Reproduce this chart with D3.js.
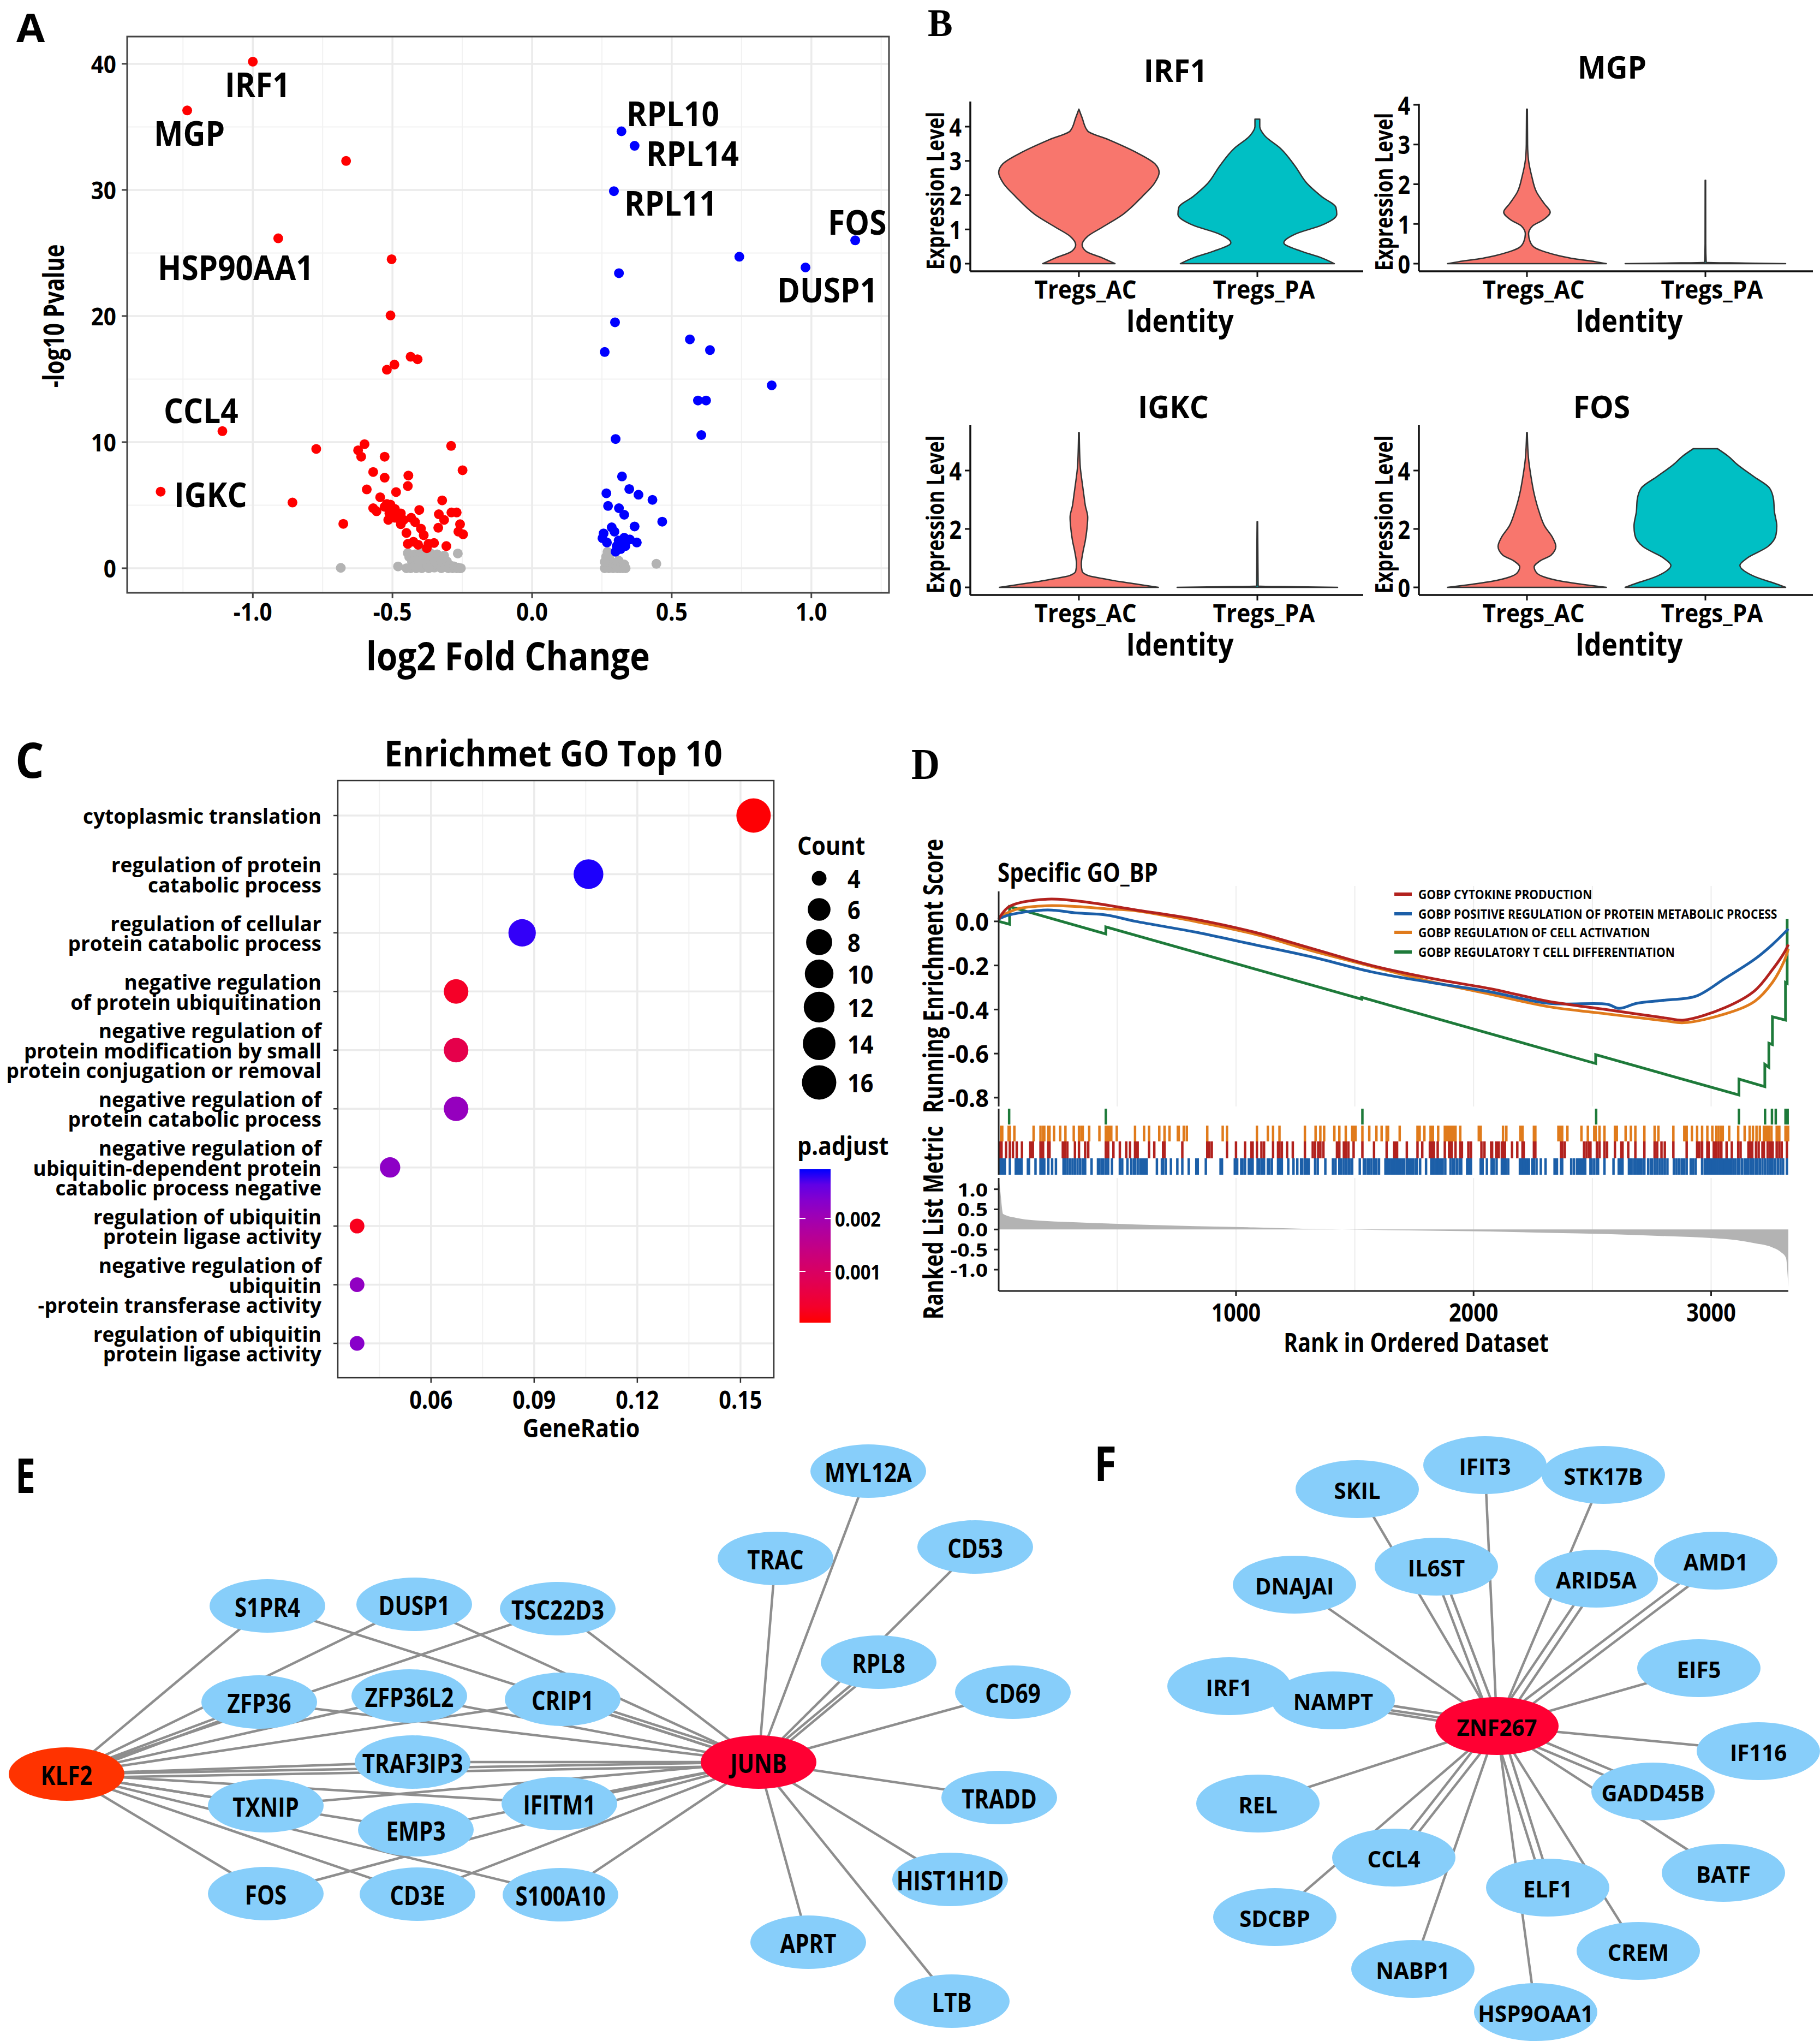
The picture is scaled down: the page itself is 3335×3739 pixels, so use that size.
<!DOCTYPE html>
<html><head><meta charset="utf-8">
<script src="https://cdn.jsdelivr.net/npm/d3@7"></script>
<style>body{margin:0;background:#fff}</style></head>
<body><svg id="c" width="3335" height="3739"></svg>
<script>
// ================= DATA =================
// Panel A volcano: [log2FC, -log10 p]
const downPts = [[-1.0,40.17],[-1.235,36.3],[-0.666,32.3],[-0.909,26.16],[-0.503,24.5],[-0.507,20.05],[-0.435,16.77],[-0.41,16.57],[-0.493,16.15],[-0.52,15.74],[-1.109,10.87],[-1.33,6.07],[-0.858,5.21],[-0.773,9.46],[-0.6,9.84],[-0.623,9.35],[-0.612,8.84],[-0.528,8.84],[-0.29,9.7],[-0.249,7.77],[-0.569,7.63],[-0.528,7.18],[-0.443,7.35],[-0.445,6.52],[-0.592,6.25],[-0.487,6.04],[-0.544,5.63],[-0.322,5.38],[-0.569,4.76],[-0.52,5.1],[-0.497,4.69],[-0.676,3.52],[-0.528,4.87],[-0.511,4.35],[-0.491,4.0],[-0.47,4.35],[-0.46,3.83],[-0.433,4.0],[-0.404,4.62],[-0.419,3.66],[-0.45,2.8],[-0.398,3.14],[-0.388,2.62],[-0.425,2.1],[-0.445,1.93],[-0.408,1.86],[-0.371,1.93],[-0.351,2.0],[-0.334,4.28],[-0.315,3.83],[-0.289,4.42],[-0.27,4.42],[-0.258,3.49],[-0.336,3.21],[-0.264,2.9],[-0.247,2.69],[-0.307,1.76],[-0.377,1.59],[-0.491,4.69],[-0.515,3.83],[-0.47,3.49],[-0.507,5.04],[-0.557,4.52]];
const upPts = [[0.32,34.65],[0.367,33.5],[0.293,29.9],[1.157,26.0],[0.742,24.7],[0.979,23.85],[0.311,23.4],[0.297,19.5],[0.565,18.15],[0.26,17.15],[0.637,17.3],[0.858,14.5],[0.594,13.3],[0.623,13.3],[0.606,10.56],[0.299,10.25],[0.322,7.28],[0.348,6.28],[0.266,5.94],[0.381,5.83],[0.431,5.42],[0.272,4.94],[0.311,4.76],[0.33,4.24],[0.466,3.69],[0.367,3.31],[0.285,3.24],[0.295,2.9],[0.256,2.76],[0.252,2.38],[0.268,2.04],[0.375,2.04],[0.33,2.42],[0.31,2.2],[0.35,2.28],[0.303,1.76],[0.317,1.52],[0.299,1.31],[0.334,1.76]];
const nsPts = [[-0.445,1.2],[-0.44,0.9],[-0.43,0.5],[-0.425,0.1],[-0.42,1.1],[-0.41,0.7],[-0.405,0.3],[-0.4,1.25],[-0.395,0.0],[-0.39,0.8],[-0.385,0.4],[-0.38,1.0],[-0.375,0.15],[-0.37,0.6],[-0.365,1.2],[-0.36,0.3],[-0.355,0.9],[-0.35,0.05],[-0.345,0.5],[-0.34,1.1],[-0.335,0.2],[-0.33,0.75],[-0.325,0.0],[-0.32,0.4],[-0.315,1.0],[-0.31,0.1],[-0.305,0.55],[-0.3,0.0],[-0.295,0.25],[-0.29,0.05],[-0.285,0.0],[-0.28,0.15],[-0.27,0.0],[-0.265,0.05],[-0.26,0.0],[-0.255,0.0],[-0.45,0.0],[-0.435,0.0],[-0.415,0.0],[-0.37,0.0],[-0.685,0.03],[-0.48,0.14],[-0.266,1.17],[0.445,0.35],[0.26,0.0],[0.265,0.9],[0.27,0.3],[0.275,0.0],[0.28,1.1],[0.285,0.5],[0.29,0.0],[0.3,0.2],[0.305,0.0],[0.31,0.6],[0.315,0.0],[0.32,0.15],[0.325,0.0],[0.33,0.3],[0.335,0.0],[0.27,1.3],[0.26,0.5]];
const volcanoLabels = ["IRF1","MGP","HSP90AA1","CCL4","IGKC","RPL10","RPL14","RPL11","FOS","DUSP1"];
const xTicksA = [-1.0,-0.5,0.0,0.5,1.0];
const yTicksA = [0,10,20,30,40];

// Panel B violins: [expression value, relative half width]
const vioGenes = ["IRF1","MGP","IGKC","FOS"];
const groups = ["Tregs_AC","Tregs_PA"];
const irf1AC = [[0,0.45],[0.17,0.29],[0.36,0.09],[0.55,0.04],[0.8,0.11],[1.06,0.29],[1.44,0.55],[1.96,0.79],[2.34,0.94],[2.66,1.0],[2.91,0.95],[3.23,0.73],[3.62,0.37],[3.87,0.11],[4.26,0.04],[4.51,0.0]];
const irf1PA = [[0,0.96],[0.17,0.8],[0.36,0.55],[0.61,0.33],[0.87,0.48],[1.12,0.8],[1.44,0.99],[1.64,0.98],[1.96,0.8],[2.34,0.62],[2.85,0.47],[3.36,0.29],[3.74,0.09],[4.0,0.03],[4.22,0.03]];
const mgpAC = [[0,0.99],[0.05,0.85],[0.12,0.6],[0.2,0.4],[0.3,0.22],[0.4,0.1],[0.55,0.04],[0.75,0.02],[0.95,0.07],[1.1,0.2],[1.3,0.29],[1.5,0.22],[1.8,0.12],[2.2,0.06],[2.6,0.02],[3.0,0.008],[3.89,0.005]];
const mgpPA = [[0,1.0],[0.015,0.5],[0.03,0.01],[0.5,0.004],[2.1,0.003]];
const igkcAC = [[0,0.99],[0.1,0.75],[0.2,0.5],[0.3,0.3],[0.4,0.12],[0.55,0.04],[0.8,0.03],[1.2,0.05],[1.6,0.08],[2.0,0.1],[2.4,0.11],[2.8,0.08],[3.2,0.06],[3.6,0.04],[4.2,0.015],[5.3,0.004]];
const igkcPA = [[0,1.0],[0.02,0.5],[0.04,0.01],[1.3,0.006],[2.25,0.003]];
const fosAC = [[0,0.99],[0.1,0.7],[0.2,0.45],[0.35,0.22],[0.5,0.12],[0.7,0.09],[0.9,0.16],[1.1,0.3],[1.4,0.36],[1.7,0.32],[2.1,0.22],[2.6,0.15],[3.2,0.09],[3.8,0.05],[4.4,0.02],[5.3,0.004]];
const fosPA = [[0,1.0],[0.15,0.85],[0.3,0.68],[0.5,0.52],[0.75,0.43],[1.0,0.52],[1.4,0.78],[1.8,0.88],[2.1,0.89],[2.6,0.86],[3.0,0.85],[3.4,0.8],[3.8,0.6],[4.2,0.4],[4.5,0.28],[4.75,0.15]];

// Panel C GO dot plot
const goTerms = [
 ["cytoplasmic translation"],
 ["regulation of protein","catabolic process"],
 ["regulation of cellular","protein catabolic process"],
 ["negative regulation","of protein ubiquitination"],
 ["negative regulation of","protein modification by small","protein conjugation or removal"],
 ["negative regulation of","protein catabolic process"],
 ["negative regulation of","ubiquitin-dependent protein","catabolic process negative"],
 ["regulation of ubiquitin","protein ligase activity"],
 ["negative regulation of","ubiquitin","-protein transferase activity"],
 ["regulation of ubiquitin","protein ligase activity"]];
const goRatio = [0.1538,0.1058,0.0865,0.0673,0.0673,0.0673,0.0481,0.0385,0.0385,0.0385];
const goCount = [16,11,9,7,7,7,5,4,4,4];
const goPadj = [0.00005,0.0029,0.00285,0.0003,0.0007,0.00215,0.00225,0.0002,0.0022,0.0023];
const xTicksC = [0.06,0.09,0.12,0.15];
const countLegend = [4,6,8,10,12,14,16];
const padjTicks = [0.001,0.002];

// Panel D GSEA
const gseaSets = ["GOBP CYTOKINE PRODUCTION","GOBP POSITIVE REGULATION OF PROTEIN METABOLIC PROCESS","GOBP REGULATION OF CELL ACTIVATION","GOBP REGULATORY T CELL DIFFERENTIATION"];
const esRed = [[1,0.01],[45,0.067],[206,0.101],[380,0.086],[578,0.052],[826,0.01],[1074,-0.048],[1322,-0.124],[1570,-0.2],[1819,-0.258],[2067,-0.305],[2191,-0.334],[2315,-0.363],[2563,-0.401],[2811,-0.439],[2885,-0.448],[3059,-0.391],[3183,-0.315],[3258,-0.219],[3307,-0.143],[3325,-0.105]];
const esBlue = [[1,0.01],[45,0.029],[206,0.052],[330,0.038],[454,0.029],[578,0.0],[826,-0.048],[1074,-0.105],[1322,-0.162],[1570,-0.229],[1819,-0.277],[2067,-0.319],[2315,-0.372],[2563,-0.376],[2612,-0.395],[2687,-0.372],[2811,-0.357],[2935,-0.34],[3059,-0.258],[3183,-0.172],[3258,-0.105],[3325,-0.034]];
const esOrange = [[1,0.019],[82,0.057],[206,0.071],[330,0.067],[454,0.057],[578,0.048],[826,0.0],[1074,-0.057],[1322,-0.134],[1570,-0.204],[1819,-0.273],[2067,-0.33],[2315,-0.387],[2563,-0.42],[2811,-0.452],[2885,-0.46],[3059,-0.42],[3183,-0.363],[3258,-0.277],[3307,-0.181],[3325,-0.124]];
const esGreen = [[1,0.0],[47,-0.013],[47,0.067],[452,-0.057],[452,-0.025],[1529,-0.353],[1529,-0.345],[2514,-0.645],[2514,-0.605],[3117,-0.788],[3117,-0.716],[3226,-0.75],[3226,-0.649],[3243,-0.662],[3243,-0.553],[3258,-0.559],[3258,-0.433],[3313,-0.448],[3313,-0.277],[3320,-0.281],[3320,0.01]];
const hitsGreen = [45,452,1532,2516,3117,3227,3256,3272,3313,3322];
const hitsOrange = [11,16,43,48,67,148,177,188,193,210,215,234,260,282,317,339,349,355,382,425,452,457,462,468,475,498,575,613,634,677,699,720,755,759,780,793,879,944,962,1088,1134,1156,1183,1290,1335,1355,1371,1414,1435,1462,1489,1495,1503,1532,1561,1591,1613,1634,1640,1689,1764,1770,1773,1793,1819,1825,1829,1851,1879,1887,1894,1901,1908,1914,1924,1944,2022,2030,2124,2138,2197,2206,2254,2260,2357,2362,2368,2373,2395,2454,2481,2508,2514,2530,2551,2595,2603,2640,2662,2681,2719,2762,2778,2841,2887,2892,2897,2919,2941,2962,2984,3005,3022,3032,3043,3049,3076,3114,3141,3162,3176,3191,3205,3222,3227,3232,3238,3243,3254,3276,3281,3287,3313,3319,3324];
const hitsRed = [5,13,32,48,61,77,99,134,140,145,177,183,188,210,215,271,279,290,322,339,365,378,452,462,484,511,538,554,575,581,586,634,656,693,699,774,879,887,898,962,1000,1038,1065,1070,1088,1107,1118,1156,1177,1183,1193,1215,1239,1290,1323,1333,1346,1355,1368,1425,1435,1454,1462,1473,1495,1532,1581,1634,1666,1670,1678,1719,1764,1784,1816,1822,1827,1833,1849,1879,1897,1903,1908,1924,1944,1951,1978,1989,2033,2046,2074,2078,2095,2100,2106,2119,2124,2132,2162,2184,2206,2211,2254,2260,2368,2373,2384,2465,2476,2487,2492,2519,2530,2551,2562,2595,2622,2627,2651,2681,2719,2762,2773,2791,2805,2841,2897,2941,2951,2962,2984,2989,3011,3016,3022,3032,3043,3065,3087,3114,3124,3157,3162,3168,3173,3189,3200,3216,3222,3238,3249,3259,3276,3287,3297,3319];
const hitsBlue = [5,11,16,21,27,48,73,81,91,97,124,129,156,177,183,188,193,210,226,242,274,279,290,301,312,322,333,344,355,360,365,392,419,425,435,441,452,462,478,511,521,543,559,570,575,586,597,602,607,613,618,624,667,688,693,704,726,753,774,801,833,839,873,935,941,995,1000,1005,1022,1027,1038,1054,1059,1065,1070,1091,1097,1107,1113,1118,1134,1140,1151,1177,1183,1188,1193,1220,1242,1258,1274,1279,1290,1296,1306,1333,1344,1376,1408,1419,1435,1441,1452,1462,1473,1478,1489,1521,1538,1543,1554,1559,1570,1581,1591,1602,1629,1637,1645,1654,1661,1665,1674,1682,1691,1700,1708,1719,1724,1730,1735,1741,1746,1757,1762,1775,1800,1822,1827,1833,1843,1849,1854,1860,1865,1870,1881,1903,1914,1919,1930,1941,1948,1973,1981,1989,2030,2038,2056,2076,2084,2097,2119,2124,2130,2135,2146,2195,2200,2206,2211,2216,2225,2233,2247,2254,2265,2283,2303,2341,2346,2351,2368,2373,2411,2422,2435,2441,2449,2454,2460,2465,2470,2492,2497,2508,2519,2524,2551,2589,2611,2616,2622,2627,2654,2660,2665,2676,2681,2690,2697,2703,2708,2719,2735,2746,2751,2762,2773,2784,2795,2805,2816,2843,2854,2865,2876,2881,2887,2897,2914,2924,2935,2962,2973,2982,2990,2999,3008,3016,3025,3034,3042,3051,3059,3068,3077,3085,3094,3103,3114,3119,3130,3141,3151,3157,3168,3178,3189,3195,3205,3216,3227,3238,3249,3259,3270,3281,3292,3303,3319];
const metricRank = [1,7,20,82,206,330,578,826,1074,1322,1570,1819,2067,2315,2563,2811,3009,3109,3183,3258,3295,3315,3325];
const metricVal = [1.28,1.0,0.383,0.28,0.207,0.176,0.124,0.083,0.052,0.01,-0.01,-0.031,-0.052,-0.083,-0.114,-0.166,-0.218,-0.269,-0.342,-0.446,-0.57,-0.705,-1.43];
const esTicks = [0.0,-0.2,-0.4,-0.6,-0.8];
const metricTicks = [1.0,0.5,0.0,-0.5,-1.0];
const rankTicks = [1000,2000,3000];

// Panel E / F networks
const eGenes = ["KLF2","JUNB","S1PR4","DUSP1","TSC22D3","ZFP36","ZFP36L2","CRIP1","TRAF3IP3","TXNIP","IFITM1","EMP3","FOS","CD3E","S100A10","MYL12A","TRAC","CD53","RPL8","CD69","TRADD","HIST1H1D","APRT","LTB"];
const eEdges = [["KLF2","S1PR4"],["KLF2","DUSP1"],["KLF2","TSC22D3"],["KLF2","ZFP36"],["KLF2","ZFP36",1],["KLF2","ZFP36L2"],["KLF2","CRIP1"],["KLF2","TRAF3IP3"],["KLF2","JUNB"],["KLF2","JUNB",1],["KLF2","TXNIP"],["KLF2","IFITM1"],["KLF2","EMP3"],["KLF2","FOS"],["KLF2","CD3E"],["KLF2","S100A10"],
 ["JUNB","S1PR4"],["JUNB","DUSP1"],["JUNB","TSC22D3"],["JUNB","ZFP36"],["JUNB","ZFP36L2"],["JUNB","CRIP1"],["JUNB","CRIP1",1],["JUNB","TRAF3IP3"],["JUNB","TXNIP"],["JUNB","IFITM1"],["JUNB","EMP3"],["JUNB","FOS"],["JUNB","CD3E"],["JUNB","S100A10"],["JUNB","MYL12A"],["JUNB","TRAC"],["JUNB","RPL8"],["JUNB","RPL8",1],["JUNB","CD53"],["JUNB","CD69"],["JUNB","TRADD"],["JUNB","HIST1H1D"],["JUNB","APRT"],["JUNB","LTB"]];
const fGenes = ["ZNF267","SKIL","IFIT3","STK17B","IL6ST","DNAJAI","ARID5A","AMD1","EIF5","IRF1","NAMPT","IF116","REL","GADD45B","CCL4","BATF","ELF1","SDCBP","CREM","NABP1","HSP9OAA1"];
const fDouble = ["IL6ST","ARID5A","AMD1","NAMPT","GADD45B","CCL4","ELF1"];

// ================= LAYOUT / STYLE =================
const E_POS = {KLF2:[122,3250],JUNB:[1390,3228],S1PR4:[490,2942],DUSP1:[759,2939],TSC22D3:[1022,2947],ZFP36:[475,3118],ZFP36L2:[750,3107],CRIP1:[1031,3113],TRAF3IP3:[756,3228],TXNIP:[487,3308],IFITM1:[1025,3304],EMP3:[762,3352],FOS:[487,3469],CD3E:[765,3470],S100A10:[1027,3471],MYL12A:[1591,2695],TRAC:[1421,2855],CD53:[1787,2834],RPL8:[1610,3045],CD69:[1856,3100],TRADD:[1831,3293],HIST1H1D:[1741,3443],APRT:[1481,3558],LTB:[1744,3666]};
const F_POS = {ZNF267:[2743,3162],SKIL:[2487,2728],IFIT3:[2721,2684],STK17B:[2938,2702],IL6ST:[2632,2870],DNAJAI:[2372,2903],ARID5A:[2925,2892],AMD1:[3144,2859],EIF5:[3113,3056],IRF1:[2252,3089],NAMPT:[2443,3115],IF116:[3222,3208],REL:[2305,3304],GADD45B:[3029,3282],CCL4:[2554,3403],BATF:[3158,3431],ELF1:[2836,3458],SDCBP:[2336,3512],CREM:[3002,3574],NABP1:[2589,3607],HSP9OAA1:[2814,3686]};

const FONT = "'Open Sans','Noto Sans','DejaVu Sans',sans-serif";
const SERIF = "'Liberation Serif','DejaVu Serif',serif";
const SQ = 0.86;
const svg = d3.select('#c');
svg.append('rect').attr('width',3335).attr('height',3739).attr('fill','#fff');

function T(g,x,y,s,o={}){
  const sx = o.sx===undefined?SQ:o.sx;
  let tr = `translate(${x},${y})`;
  if(o.rot) tr += ` rotate(${o.rot}) scale(1,${sx})`; else tr += ` scale(${sx},1)`;
  const t = g.append('text').attr('transform',tr)
    .attr('font-family',o.family||FONT).attr('font-size',o.size||40)
    .attr('font-weight',o.weight||700).attr('text-anchor',o.anchor||'start')
    .attr('dominant-baseline',o.base||'central').attr('fill',o.fill||'#000');
  if(Array.isArray(s)){
    const n=s.length, lh=o.lh||36;
    s.forEach((line,j)=>t.append('tspan').attr('x',0).attr('y',(j-(n-1)/2)*lh).text(line));
  } else t.text(s);
  return t;
}
function L(g,x1,y1,x2,y2,c,w){return g.append('line').attr('x1',x1).attr('y1',y1).attr('x2',x2).attr('y2',y2).attr('stroke',c).attr('stroke-width',w);}

// ================= PANEL A =================
(function(){
  const g = svg.append('g');
  const x = d3.scaleLinear().domain([-1.45,1.278]).range([233,1629]);
  const y = d3.scaleLinear().domain([-1.95,42.16]).range([1086,67]);
  const [x0,x1] = x.range(), [y0,y1] = y.range();
  [-1.25,-0.75,-0.25,0.25,0.75,1.25].forEach(v=>L(g,x(v),y1,x(v),y0,'#F2F2F2',2));
  [5,15,25,35].forEach(v=>L(g,x0,y(v),x1,y(v),'#F2F2F2',2));
  xTicksA.forEach(v=>L(g,x(v),y1,x(v),y0,'#EBEBEB',3.5));
  yTicksA.forEach(v=>L(g,x0,y(v),x1,y(v),'#EBEBEB',3.5));
  const pt = (arr,col)=>g.selectAll(null).data(arr).enter().append('circle')
     .attr('cx',d=>x(d[0])).attr('cy',d=>y(d[1])).attr('r',9).attr('fill',col);
  pt(nsPts,'#B3B3B3'); pt(downPts,'#FF0000'); pt(upPts,'#0000FF');
  g.append('rect').attr('x',x0).attr('y',y1).attr('width',x1-x0).attr('height',y0-y1).attr('fill','none').attr('stroke','#444').attr('stroke-width',3);
  yTicksA.forEach(v=>{L(g,x0-10,y(v),x0,y(v),'#444',3); T(g,x0-20,y(v),String(v),{size:44,anchor:'end',sx:0.92});});
  xTicksA.forEach(v=>{L(g,x(v),y0,x(v),y0+10,'#444',3); T(g,x(v),1120,v.toFixed(1),{size:44,anchor:'middle',sx:0.92});});
  T(g,(x0+x1)/2,1200,'log2 Fold Change',{size:72,anchor:'middle',sx:0.86});
  T(g,97,y(20),'-log10 Pvalue',{size:40,anchor:'middle',rot:-90,sx:1.3});
  const lp = {IRF1:[412,154],MGP:[282,243],HSP90AA1:[289,489],CCL4:[300,751],IGKC:[319,905],RPL10:[1148,207],RPL14:[1184,280],RPL11:[1144,371],FOS:[1517,406],DUSP1:[1424,530]};
  volcanoLabels.forEach(n=>T(g,lp[n][0],lp[n][1],n,{size:63,sx:0.9}));
  T(g,30,77,'A',{size:72,base:'auto',sx:1.05});
})();

// ================= PANEL B =================
const VCOL = ['#F8766D','#00BFC4'];
function violin(p){
  const g = svg.append('g');
  const y = d3.scaleLinear().domain([0,4]).range([p.y0,p.y4]);
  const x = d3.scalePoint().domain(groups).range(p.centers);
  const HW = 147;
  [p.ac,p.pa].forEach((prof,i)=>{
    const cx = x(groups[i]);
    const area = d3.area().curve(d3.curveMonotoneY)
      .y(d=>y(d[0])).x0(d=>cx-d[1]*HW).x1(d=>cx+d[1]*HW);
    g.append('path').attr('d',area(prof)).attr('fill',VCOL[i]).attr('stroke','#333').attr('stroke-width',2.5).attr('stroke-linejoin','round');
  });
  L(g,p.ax,p.top,p.ax,p.axY,'#111',3.5);
  L(g,p.ax,p.axY,p.axEnd,p.axY,'#111',3.5);
  p.ticks.forEach(v=>{L(g,p.ax-10,y(v),p.ax,y(v),'#111',3); T(g,p.ax-16,y(v),String(v),{size:46,anchor:'end'});});
  groups.forEach(gname=>{L(g,x(gname),p.axY,x(gname),p.axY+10,'#111',3); T(g,x(gname)+12,p.axY+32,gname,{size:46,anchor:'middle',sx:0.92});});
  T(g,p.titleX,p.titleY,p.title,{size:58,anchor:'middle',sx:0.95});
  T(g,(p.ax+p.axEnd)/2+24,p.axY+88,'Identity',{size:58,anchor:'middle'});
  T(g,p.ax-65,(p.top+p.axY)/2+8,'Expression Level',{size:35,anchor:'middle',rot:-90,sx:1.3});
}
violin({title:'IRF1',titleX:2154,titleY:128,y0:483,y4:232,ax:1778,axEnd:2498,top:186,axY:497,centers:[1977,2304],ticks:[0,1,2,3,4],ac:irf1AC,pa:irf1PA});
violin({title:'MGP',titleX:2954,titleY:122,y0:483,y4:192,ax:2600,axEnd:3322,top:190,axY:497,centers:[2798,3125],ticks:[0,1,2,3,4],ac:mgpAC,pa:mgpPA});
violin({title:'IGKC',titleX:2150,titleY:744,y0:1076,y4:862,ax:1778,axEnd:2498,top:779,axY:1090,centers:[1977,2304],ticks:[0,2,4],ac:igkcAC,pa:igkcPA});
violin({title:'FOS',titleX:2935,titleY:744,y0:1076,y4:862,ax:2600,axEnd:3322,top:779,axY:1090,centers:[2798,3125],ticks:[0,2,4],ac:fosAC,pa:fosPA});
T(svg,1700,66,'B',{size:72,base:'auto',family:SERIF,sx:0.95});

// ================= PANEL C =================
(function(){
  const g = svg.append('g');
  const x = d3.scaleLinear().domain([0.0329,0.1597]).range([619,1418]);
  const y = d3.scalePoint().domain(d3.range(10)).range([1494,2461]);
  const top=1430, bot=2524;
  const col = d3.scaleLinear().domain([0.00003,0.00293]).range(['#FF0000','#0000FF']).interpolate(d3.interpolateLab);
  const rad = c=>13.5 + 18*Math.sqrt((c-4)/12);
  [0.045,0.075,0.105,0.135].forEach(v=>L(g,x(v),top,x(v),bot,'#F2F2F2',2));
  xTicksC.forEach(v=>L(g,x(v),top,x(v),bot,'#EBEBEB',3.5));
  d3.range(10).forEach(i=>L(g,619,y(i),1418,y(i),'#EBEBEB',3.5));
  g.selectAll(null).data(goRatio).enter().append('circle')
    .attr('cx',d=>x(d)).attr('cy',(d,i)=>y(i)).attr('r',(d,i)=>rad(goCount[i])).attr('fill',(d,i)=>col(goPadj[i]));
  g.append('rect').attr('x',619).attr('y',top).attr('width',799).attr('height',bot-top).attr('fill','none').attr('stroke','#333').attr('stroke-width',2.5);
  goTerms.forEach((lines,i)=>{
    L(g,611,y(i),619,y(i),'#333',2.5);
    T(g,589,y(i),lines,{size:37,anchor:'end',sx:1.0,lh:36.5});
  });
  xTicksC.forEach(v=>{L(g,x(v),bot,x(v),bot+9,'#333',2.5); T(g,x(v),2563,v.toFixed(2),{size:46,anchor:'middle'});});
  T(g,1065,2615,'GeneRatio',{size:46,anchor:'middle',sx:0.9});
  T(g,1014,1378,'Enrichmet GO Top 10',{size:66,anchor:'middle',sx:0.9});
  // legends
  T(g,1461,1548,'Count',{size:46,sx:0.9});
  const ly = [1609,1666,1726,1784,1845,1912,1983];
  countLegend.forEach((c,i)=>{g.append('circle').attr('cx',1501).attr('cy',ly[i]).attr('r',rad(c)).attr('fill','#000'); T(g,1553,ly[i],String(c),{size:46,sx:0.9});});
  T(g,1461,2098,'p.adjust',{size:46,sx:0.9});
  const cb = d3.scaleLinear().domain([0.00003,0.00293]).range([2423,2142]);
  const grad = svg.append('defs').append('linearGradient').attr('id','pg').attr('x1',0).attr('y1',1).attr('x2',0).attr('y2',0);
  d3.range(11).forEach(k=>grad.append('stop').attr('offset',k/10).attr('stop-color',d3.interpolateLab('#FF0000','#0000FF')(k/10)));
  g.append('rect').attr('x',1465).attr('y',2142).attr('width',57).attr('height',281).attr('fill','url(#pg)');
  padjTicks.forEach(v=>{L(g,1465,cb(v),1476,cb(v),'#fff',2); L(g,1511,cb(v),1522,cb(v),'#fff',2); T(g,1530,cb(v),v.toFixed(3),{size:38});});
  T(g,28,1425,'C',{size:90,base:'auto',sx:0.92});
})();

// ================= PANEL D =================
(function(){
  const g = svg.append('g');
  const x = d3.scaleLinear().domain([1,3325]).range([1830,3277]);
  const y = d3.scaleLinear().domain([-0.84,0.136]).range([2027,1633]);
  const ym = d3.scaleLinear().domain([-1.53,1.28]).range([2365,2158]);
  const cols = ['#B2221E','#1C5FA8','#E07B1C','#1E7A3A'];
  [500,1000,1500,2000,2500,3000].forEach(v=>{L(g,x(v),1623,x(v),2027,'#EDEDED',2); L(g,x(v),2158,x(v),2365,'#EDEDED',2);});
  const line = d3.line().x(d=>x(d[0])).y(d=>y(d[1]));
  const lineS = d3.line().curve(d3.curveCatmullRom.alpha(0.5)).x(d=>x(d[0])).y(d=>y(d[1]));
  g.append('path').attr('d',line(esGreen)).attr('fill','none').attr('stroke',cols[3]).attr('stroke-width',5);
  [[esOrange,2],[esBlue,1],[esRed,0]].forEach(([d,c])=>g.append('path').attr('d',lineS(d)).attr('fill','none').attr('stroke',cols[c]).attr('stroke-width',5));
  L(g,1830,1633,1830,2027,'#222',3);
  esTicks.forEach(v=>{L(g,1821,y(v),1830,y(v),'#222',3); T(g,1812,y(v),v.toFixed(1),{size:44,anchor:'end',sx:0.98});});
  // legend
  gseaSets.forEach((s,i)=>{const yy=[1638,1674,1708,1744][i]; L(g,2555,yy,2587,yy,cols[i],6); T(g,2599,yy,s,{size:24,sx:0.88});});
  // hits
  const rows = [[hitsGreen,3,2031,2060],[hitsOrange,2,2062,2091],[hitsRed,0,2091,2122],[hitsBlue,1,2122,2152]];
  rows.forEach(([h,c,a,b])=>g.selectAll(null).data(h).enter().append('line')
     .attr('x1',d=>x(d)).attr('x2',d=>x(d)).attr('y1',a).attr('y2',b).attr('stroke',cols[c]).attr('stroke-width',4.5));
  L(g,1830,2031,1830,2152,'#222',3);
  // metric
  const area = d3.area().curve(d3.curveMonotoneX).x(d=>x(d[0])).y0(ym(0)).y1(d=>ym(d[1]));
  g.append('path').attr('d',area(metricRank.map((r,i)=>[r,metricVal[i]]))).attr('fill','#B3B3B3');
  L(g,1830,2158,1830,2365,'#222',3);
  L(g,1830,2365,3277,2365,'#222',3);
  metricTicks.forEach(v=>{L(g,1821,ym(v),1830,ym(v),'#222',3); T(g,1810,ym(v),v.toFixed(1),{size:34,anchor:'end',sx:1.15});});
  rankTicks.forEach(v=>{L(g,x(v),2365,x(v),2374,'#222',3); T(g,x(v),2403,String(v),{size:46,anchor:'middle'});});
  T(g,2595,2458,'Rank in Ordered Dataset',{size:48,anchor:'middle',sx:0.82});
  T(g,1828,1598,'Specific GO_BP',{size:48,sx:0.84});
  T(g,1709,1788,'Running Enrichment Score',{size:38,anchor:'middle',rot:-90,sx:1.3});
  T(g,1709,2240,'Ranked List Metric',{size:38,anchor:'middle',rot:-90,sx:1.3});
  T(g,1670,1427,'D',{size:80,base:'auto',family:SERIF,sx:0.9});
})();

// ================= PANEL E =================
function edgePath(a,b,off){
  const dx=b[0]-a[0], dy=b[1]-a[1], len=Math.hypot(dx,dy);
  const ox=-dy/len*off, oy=dx/len*off;
  return [a[0]+ox,a[1]+oy,b[0]+ox,b[1]+oy];
}
(function(){
  const g = svg.append('g');
  eEdges.forEach(e=>{const p=edgePath(E_POS[e[0]],E_POS[e[1]],e[2]?7:0); L(g,p[0],p[1],p[2],p[3],'#8E8E8E',4.5);});
  eGenes.forEach(n=>{
    const [cx,cy]=E_POS[n];
    const c = n==='KLF2'?'#FF3300':(n==='JUNB'?'#FF0033':'#87CEFA');
    g.append('ellipse').attr('cx',cx).attr('cy',cy).attr('rx',106).attr('ry',49).attr('fill',c);
    T(g,cx,cy+2,n,{size:48,anchor:'middle',sx:0.84});
  });
  T(g,28,2735,'E',{size:88,base:'auto',sx:0.75});
})();

// ================= PANEL F =================
(function(){
  const g = svg.append('g');
  const c0 = F_POS.ZNF267;
  fGenes.slice(1).forEach(n=>{
    const dbl = fDouble.includes(n);
    (dbl?[-7,7]:[0]).forEach(o=>{const p=edgePath(c0,F_POS[n],o); L(g,p[0],p[1],p[2],p[3],'#8E8E8E',4.5);});
  });
  fGenes.forEach(n=>{
    const [cx,cy]=F_POS[n];
    const c = n==='ZNF267'?'#FF0033':'#87CEFA';
    g.append('ellipse').attr('cx',cx).attr('cy',cy).attr('rx',113).attr('ry',53).attr('fill',c);
    T(g,cx,cy+2,n,{size:41,anchor:'middle',sx:0.98});
  });
  T(g,2005,2713,'F',{size:88,base:'auto',sx:0.85});
})();
</script></body></html>
